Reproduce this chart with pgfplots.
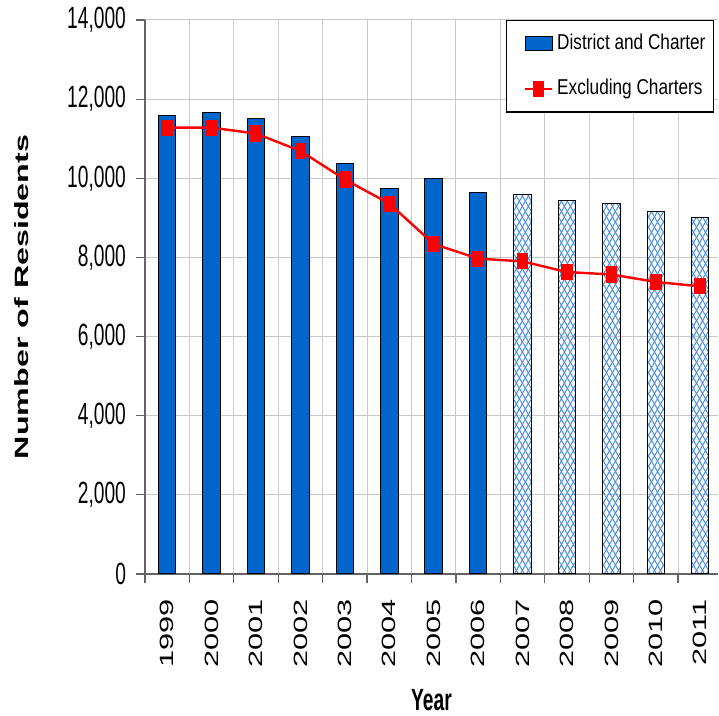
\documentclass[border=0pt]{standalone}
\usepackage{pgfplots}
\pgfplotsset{compat=1.18}
\usepackage{fontspec}
\setmainfont{Liberation Sans}
\usetikzlibrary{patterns.meta}

\definecolor{barblue}{RGB}{0,102,204}
\definecolor{hatchblue}{RGB}{70,140,220}
\definecolor{gridgray}{RGB}{200,200,200}
\definecolor{axisgray}{RGB}{100,100,100}

\pgfplotsset{
    box legend/.style={legend image code/.code={\path (0pt,0pt);
        \draw[##1] (6.5pt,-3.5pt) rectangle (20pt,3.5pt);}},
    mark legend/.style={legend image code/.code={\path (0pt,0pt);
        \draw[mark repeat=2, mark phase=2, ##1]
        plot coordinates {(6.5pt,0pt) (13.25pt,0pt) (20pt,0pt)};}},
}

\begin{document}
\begin{tikzpicture}
\begin{axis}[
    scale only axis,
    width=286.5pt,
    height=277pt,
    xmin=-0.5, xmax=12.4,
    ymin=0, ymax=14000,
    axis x line*=bottom,
    axis y line*=left,
    axis line style={-, axisgray, line width=0.6pt},
    ytick={0,2000,...,14000},
    scaled y ticks=false,
    /pgf/number format/1000 sep={,},
    /pgf/number format/assume math mode=true,
    xtick={-0.5,0.5,...,11.5},
    xticklabels={},
    extra x ticks={0,1,...,12},
    extra x tick labels={1999,2000,2001,2002,2003,2004,2005,2006,2007,2008,2009,2010,2011},
    extra x tick style={grid=none, major tick length=0pt},
    grid=major,
    grid style={gridgray, line width=0.5pt},
    tick align=outside,
    major tick length=4.5pt,
    tick style={axisgray, line width=0.6pt},
    tick label style={font=\fontsize{9.6}{11}\selectfont},
    yticklabel style={yscale=1.6},
    yticklabel shift=1.5pt,
    xticklabel style={rotate=90, anchor=east, xscale=1.6},
    xticklabel shift=7pt,
    every axis y label/.style={at={(rel axis cs:0,0.5)}, anchor=center,
        xshift=-61.5pt, rotate=90, xscale=1.68,
        font=\bfseries\fontsize{9.6}{11}\selectfont},
    every axis x label/.style={at={(rel axis cs:0.5,0)}, anchor=center,
        yshift=-63pt, yscale=1.6,
        font=\bfseries\fontsize{9.6}{11}\selectfont},
    ylabel={Number of Residents},
    xlabel={Year},
    legend style={
        at={(rel axis cs:1,1)}, anchor=north east, xshift=-2pt,
        draw=black, line width=0.6pt, fill=white,
        font=\fontsize{8.6}{10}\selectfont,
        inner xsep=2pt, inner ysep=4.2pt,
        row sep=8pt,
        nodes={yscale=1.25},
    },
    legend cell align=left,
]

% district and charter, actual years
\addplot[ybar, bar width=8.75pt, bar shift=0pt, fill=barblue, draw=black, line width=0.5pt,
    box legend]
coordinates {
    (0,11580) (1,11650) (2,11500) (3,11050) (4,10370) (5,9730) (6,10000) (7,9650)
};
\addlegendentry{District and Charter}

% projected years, hatched
\addplot[ybar, bar width=8.75pt, bar shift=0pt, draw=black, line width=0.5pt,
    pattern={Lines[angle=60, distance=2.6pt, line width=0.5pt]}, pattern color=hatchblue,
    postaction={pattern={Lines[angle=-60, distance=2.6pt, line width=0.5pt]}, pattern color=hatchblue},
    forget plot]
coordinates {
    (8,9580) (9,9430) (10,9360) (11,9160) (12,9010)
};

% excluding charters
\addplot[red, line width=1.2pt, mark=square*, mark size=2.3pt,
    mark options={solid, yscale=1.5, fill=red, draw=red},
    mark legend]
coordinates {
    (0,11280) (1,11280) (2,11130) (3,10690) (4,9970) (5,9360) (6,8340)
    (7,7970) (8,7900) (9,7630) (10,7570) (11,7380) (12,7270)
};
\addlegendentry{Excluding Charters}

\coordinate (bl) at (rel axis cs:0,0);
\coordinate (tr) at (rel axis cs:1,1);
\end{axis}
\pgfresetboundingbox
\useasboundingbox ([xshift=-72.5pt,yshift=-71pt]bl) rectangle ([xshift=0.5pt,yshift=10pt]tr);
\end{tikzpicture}
\end{document}
